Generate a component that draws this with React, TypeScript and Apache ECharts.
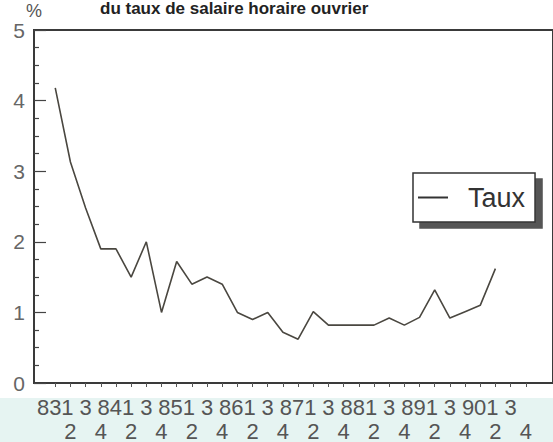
import React, { useEffect, useRef } from "react";
import * as echarts from "echarts";

const tickLabels = [
  "831", "2", "3", "4",
  "841", "2", "3", "4",
  "851", "2", "3", "4",
  "861", "2", "3", "4",
  "871", "2", "3", "4",
  "881", "2", "3", "4",
  "891", "2", "3", "4",
  "901", "2", "3", "4",
];

const seriesName = "Taux";
const tauxValues = [
  4.18, 3.13, 2.48, 1.9, 1.9, 1.5, 2.0, 1.0, 1.72, 1.4,
  1.5, 1.4, 1.0, 0.9, 1.0, 0.72, 0.62, 1.01, 0.82, 0.82,
  0.82, 0.82, 0.92, 0.82, 0.93, 1.32, 0.92, 1.01, 1.1, 1.62,
];

const titleText = "du taux de salaire horaire ouvrier";
const yUnit = "%";

export default function App() {
  const ref = useRef<HTMLDivElement>(null);
  useEffect(() => {
    const chart = echarts.init(ref.current!, null, { renderer: "svg" });
    const tickIdx = tickLabels.map((_, i) => i);
    const evenIdx = tickIdx.filter((i) => i % 2 === 0);
    const oddIdx = tickIdx.filter((i) => i % 2 === 1);
    const xMin = -1.4;
    const gridW = 530;
    const step = 15.5;
    const xMax = xMin + gridW / step;
    const labelFmt = (v: number) => tickLabels[Math.round(v)] ?? "";
    const labelStyle = { fontSize: 22, color: "#555" };
    chart.setOption({
      animation: false,
      backgroundColor: "#ffffff",
      textStyle: { fontFamily: "Liberation Sans" },
      title: {
        text: titleText,
        left: 100,
        top: 0,
        padding: 0,
        textStyle: { fontSize: 17, fontWeight: "bold", color: "#222" },
      },
      graphic: [
        {
          type: "rect",
          left: 0,
          top: 398,
          z: -10,
          silent: true,
          shape: { width: 553, height: 44 },
          style: { fill: "#e6f4f2" },
        },
      ],
      grid: {
        left: 34,
        top: 30,
        width: gridW,
        height: 355,
        show: true,
        borderColor: "#3a3a3a",
        borderWidth: 2,
        backgroundColor: "transparent",
      },
      legend: {
        data: [seriesName],
        left: 413,
        top: 173,
        padding: [11, 10, 11, 5],
        icon: "rect",
        itemWidth: 30,
        itemHeight: 2,
        itemStyle: { color: "#333" },
        backgroundColor: "#ffffff",
        borderColor: "#333",
        borderWidth: 1.5,
        borderRadius: 0,
        shadowColor: "#555",
        shadowBlur: 1,
        shadowOffsetX: 7,
        shadowOffsetY: 6,
        textStyle: { fontSize: 27, color: "#333", padding: [0, 0, 0, 15] },
      },
      xAxis: [
        {
          type: "value",
          position: "bottom",
          min: xMin,
          max: xMax,
          axisLine: { show: true, onZero: false, lineStyle: { color: "#3a3a3a", width: 2 } },
          axisTick: {
            show: true,
            customValues: tickIdx,
            length: 4,
            lineStyle: { color: "#555", width: 1 },
          },
          axisLabel: {
            customValues: evenIdx,
            showMinLabel: true,
            formatter: labelFmt,
            margin: 13,
            ...labelStyle,
          },
          splitLine: { show: false },
        },
        {
          type: "value",
          position: "bottom",
          offset: 0,
          min: xMin,
          max: xMax,
          axisLine: { show: false, onZero: false },
          axisTick: { show: false },
          axisLabel: {
            customValues: oddIdx,
            formatter: labelFmt,
            margin: 37,
            ...labelStyle,
          },
          splitLine: { show: false },
        },
      ],
      yAxis: {
        type: "value",
        min: 0,
        max: 5,
        interval: 1,
        name: yUnit,
        nameGap: 8,
        nameTextStyle: { fontSize: 18, color: "#555", align: "center" },
        axisLine: { show: true, onZero: false, lineStyle: { color: "#3a3a3a", width: 2 } },
        axisTick: { show: true, inside: true, length: 12, lineStyle: { color: "#444", width: 1.2 } },
        minorTick: { show: true, splitNumber: 4, length: 5, lineStyle: { color: "#444", width: 1.2 } },
        axisLabel: { fontSize: 21, color: "#666", margin: 9 },
        splitLine: { show: false },
      },
      series: [
        {
          name: seriesName,
          type: "line",
          xAxisIndex: 0,
          data: tauxValues.map((v, i) => [i, v]),
          symbol: "none",
          color: "#4a4740",
          lineStyle: { color: "#4a4740", width: 1.6 },
        },
      ],
    });
    return () => chart.dispose();
  }, []);
  return (
    <div
      ref={ref}
      style={{ position: "fixed", left: 0, top: 0, width: 553, height: 442, background: "#fff" }}
    />
  );
}
